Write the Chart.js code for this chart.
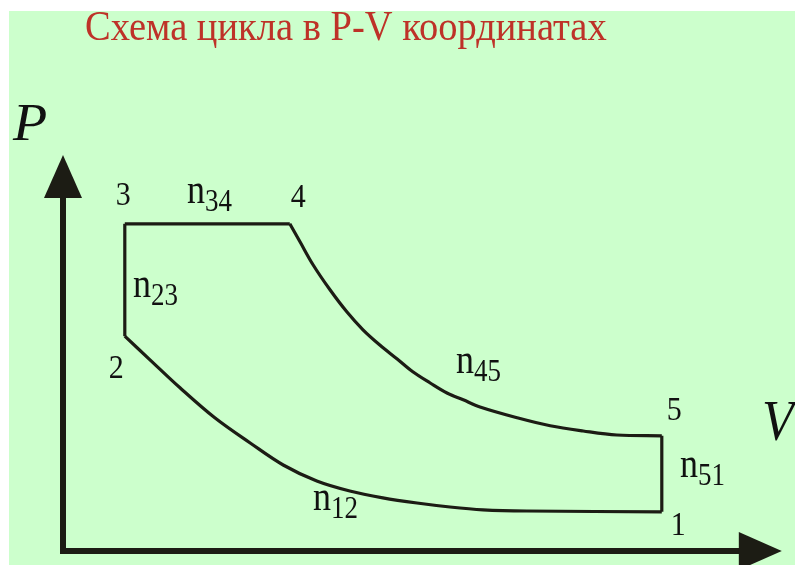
<!DOCTYPE html>
<html>
<head>
<meta charset="utf-8">
<script src="https://cdn.jsdelivr.net/npm/chart.js@4.4.0/dist/chart.umd.min.js"></script>
<style>
  html, body { margin: 0; padding: 0; background: #fff; }
  canvas { display: block; }
</style>
</head>
<body>
<canvas id="pvChart" width="795" height="565"></canvas>
<script>
/*---- data: cycle in P-V coordinates ----- */

var title = "Схема цикла в P-V координатах";

// vertices 1..5
var pointNames = ["1", "2", "3", "4", "5"];
var vertexV = [9.98, 1.03, 1.03, 3.78, 9.98];
var vertexP = [0.98, 5.37, 8.18, 8.18, 2.88];

// process 1-2 (from 2 to 1)
var v12 = [1.03, 1.45, 1.95, 2.53, 3.12, 3.67, 4.23, 4.78, 5.33, 5.90, 6.45, 7.00, 7.73, 9.98];
var p12 = [5.37, 4.78, 4.08, 3.33, 2.70, 2.15, 1.75, 1.50, 1.33, 1.20, 1.10, 1.03, 1.00, 0.98];

// process 4-5 (upper curve)
var v45 = [3.78, 3.95, 4.17, 4.45, 4.73, 5.00, 5.28, 5.57, 5.83, 6.12, 6.40, 6.67, 6.95, 7.57, 8.12, 8.67, 9.23, 9.98];
var p45 = [8.18, 7.73, 7.15, 6.53, 5.98, 5.53, 5.15, 4.80, 4.48, 4.20, 3.95, 3.78, 3.60, 3.33, 3.13, 3.00, 2.90, 2.88];

var processNames = ["12", "23", "34", "45", "51"];

// axis ends
var vMax = 12, pMax = 10;
var vAxisEnd = 11.98, pAxisEnd = 9.9;


function pts(vs, ps) {
	return vs.map(function (v, i) { return { x: v, y: ps[i] }; });
}
function seg(a, b) {
	return [{ x: vertexV[a], y: vertexP[a] }, { x: vertexV[b], y: vertexP[b] }];
}

var lineColor = '#1c1c14';

function lineSet(data, smooth) {
	return {
		data: data,
		showLine: true,
		borderColor: lineColor,
		borderWidth: 3.2,
		pointRadius: 0,
		fill: false,
		tension: smooth ? 0.35 : 0
	};
}

// label placement (pixels)
var pointLabelOffset = [[9, 23], [-16, 42], [-9, -19], [1, -17], [5, -16]];
var processLabelPos = {
	"12": [313, 510],
	"23": [133, 297],
	"34": [187, 203],
	"45": [456, 373],
	"51": [680, 477]
};

function stretchText(ctx, txt, x, y, font, sy) {
	ctx.save();
	ctx.translate(x, y);
	ctx.scale(1, sy);
	ctx.font = font;
	ctx.textAlign = 'left';
	ctx.textBaseline = 'alphabetic';
	ctx.fillText(txt, 0, 0);
	ctx.restore();
}

var decor = {
	id: 'decor',
	beforeDraw: function (chart) {
		var ctx = chart.ctx;
		ctx.save();
		ctx.fillStyle = '#ffffff';
		ctx.fillRect(0, 0, chart.width, chart.height);
		ctx.fillStyle = '#ccffcc';
		ctx.fillRect(9, 11, chart.width - 9, chart.height - 11);
		ctx.restore();
	},
	afterDatasetsDraw: function (chart) {
		var ctx = chart.ctx;
		var xs = chart.scales.x, ys = chart.scales.y;
		var x0 = xs.getPixelForValue(0), y0 = ys.getPixelForValue(0);
		var xEnd = xs.getPixelForValue(vAxisEnd), yEnd = ys.getPixelForValue(pAxisEnd);
		var head = 43, half = 19;

		ctx.save();
		ctx.strokeStyle = lineColor;
		ctx.fillStyle = lineColor;
		ctx.lineWidth = 6;
		ctx.beginPath();
		ctx.moveTo(x0, y0 + 3);
		ctx.lineTo(x0, yEnd + head - 2);
		ctx.moveTo(x0 - 3, y0);
		ctx.lineTo(xEnd - head + 2, y0);
		ctx.stroke();

		ctx.beginPath();
		ctx.moveTo(x0, yEnd);
		ctx.lineTo(x0 - half, yEnd + head);
		ctx.lineTo(x0 + half, yEnd + head);
		ctx.closePath();
		ctx.fill();

		ctx.beginPath();
		ctx.moveTo(xEnd, y0);
		ctx.lineTo(xEnd - head, y0 - half);
		ctx.lineTo(xEnd - head, y0 + half);
		ctx.closePath();
		ctx.fill();

		// axis names
		ctx.fillStyle = '#111';
		stretchText(ctx, 'P', 13, 140, 'italic 56px "Liberation Serif"', 0.95);
		stretchText(ctx, 'V', 762, 440, 'italic 52px "Liberation Serif"', 1.1);

		// vertex numbers
		pointNames.forEach(function (n, i) {
			var px = xs.getPixelForValue(vertexV[i]);
			var py = ys.getPixelForValue(vertexP[i]);
			stretchText(ctx, n, px + pointLabelOffset[i][0], py + pointLabelOffset[i][1], '30px "Liberation Serif"', 1.1);
		});

		// process labels n_ij
		processNames.forEach(function (k) {
			var p = processLabelPos[k];
			stretchText(ctx, 'n', p[0], p[1], '36px "Liberation Serif"', 1.2);
			stretchText(ctx, k, p[0] + 18, p[1] + 8, '27px "Liberation Serif"', 1.15);
		});

		// title
		ctx.fillStyle = '#be3228';
		stretchText(ctx, title, 85, 40, '38.5px "Liberation Serif"', 1.1);
		ctx.restore();
	}
};

var ctx = document.getElementById('pvChart').getContext('2d');
var pvChart = new Chart(ctx, {
	type: 'scatter',
	data: {
		datasets: [
			lineSet(pts(v12, p12), true),
			lineSet(seg(1, 2), false),
			lineSet(seg(2, 3), false),
			lineSet(pts(v45, p45), true),
			lineSet(seg(4, 0), false)
		]
	},
	options: {
		responsive: false,
		animation: false,
		layout: { padding: { left: 63, right: 12, top: 151, bottom: 14 } },
		plugins: {
			legend: { display: false },
			tooltip: { enabled: false }
		},
		scales: {
			x: { type: 'linear', min: 0, max: vMax, display: false },
			y: { type: 'linear', min: 0, max: pMax, display: false }
		}
	},
	plugins: [decor]
});
</script>
</body>
</html>
